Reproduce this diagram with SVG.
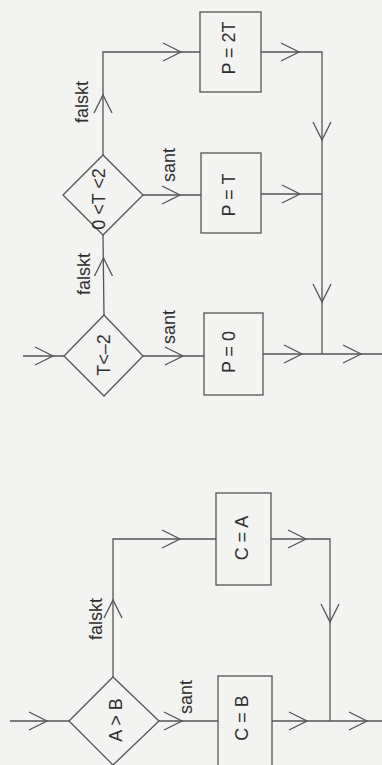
<svg xmlns="http://www.w3.org/2000/svg" xmlns:xlink="http://www.w3.org/1999/xlink" width="382" height="765" viewBox="0 0 382 765">
<style>
.bg{fill:#f3f3f1}
.ln{fill:none;stroke:#555;stroke-width:1.3}
.bx{fill:none;stroke:#555;stroke-width:1.3}
.t{font-family:"Liberation Sans",Arial,sans-serif;font-size:18px;fill:#2e2e2e;text-anchor:middle}
</style>
<defs>
<path id="ah" d="M-18,-9 L0,0 L-18,9" fill="none" stroke="#555" stroke-width="1.3"/>
</defs>
<rect class="bg" x="0" y="0" width="382" height="765"/>
<g id="connectors">
<path class="ln" d="M23,356 L64,356"/>
<use xlink:href="#ah" transform="translate(53,356)"/>
<path class="ln" d="M143,356 L204,356"/>
<use xlink:href="#ah" transform="translate(183,356)"/>
<path class="ln" d="M263,354 L382,354"/>
<use xlink:href="#ah" transform="translate(302,354)"/>
<use xlink:href="#ah" transform="translate(361,354)"/>
<path class="ln" d="M104,315 L103,235"/>
<use xlink:href="#ah" transform="translate(103.5,258) rotate(-90)"/>
<path class="ln" d="M143,195 L201,195"/>
<use xlink:href="#ah" transform="translate(180,195)"/>
<path class="ln" d="M261,194 L322,194"/>
<use xlink:href="#ah" transform="translate(300,194)"/>
<path class="ln" d="M103,155 L103,52 L200,52"/>
<use xlink:href="#ah" transform="translate(103,95) rotate(-90)"/>
<use xlink:href="#ah" transform="translate(181,52)"/>
<path class="ln" d="M261,52 L322,52 L322,354"/>
<use xlink:href="#ah" transform="translate(299,52)"/>
<use xlink:href="#ah" transform="translate(322,140) rotate(90)"/>
<use xlink:href="#ah" transform="translate(322,302) rotate(90)"/>
<path class="ln" d="M10,721 L69,721"/>
<use xlink:href="#ah" transform="translate(47,721)"/>
<path class="ln" d="M159,721 L218,721"/>
<use xlink:href="#ah" transform="translate(182,721)"/>
<path class="ln" d="M272,721 L382,721"/>
<use xlink:href="#ah" transform="translate(307,721)"/>
<use xlink:href="#ah" transform="translate(367,721)"/>
<path class="ln" d="M113,677 L113,539 L216,539"/>
<use xlink:href="#ah" transform="translate(113,600) rotate(-90)"/>
<use xlink:href="#ah" transform="translate(180,539)"/>
<path class="ln" d="M271,539 L330,539 L330,721"/>
<use xlink:href="#ah" transform="translate(306,539)"/>
<use xlink:href="#ah" transform="translate(330,622) rotate(90)"/>
</g>
<g id="labels">
<text class="t" transform="translate(175,165) rotate(-90)">sant</text>
<text class="t" transform="translate(175,327) rotate(-90)">sant</text>
<text class="t" transform="translate(192,697) rotate(-90)">sant</text>
<text class="t" transform="translate(88,102) rotate(-90)">falskt</text>
<text class="t" transform="translate(90,274) rotate(-90)">falskt</text>
<text class="t" transform="translate(102,619) rotate(-90)">falskt</text>
</g>
<g id="d-t-lt-minus2">
<path class="bx" d="M104,315 L143,356 L104,396 L64,356 Z"/>
<text class="t" transform="translate(110,355) rotate(-90)">T&lt;–2</text>
</g>
<g id="d-0-lt-t-lt-2">
<path class="bx" d="M103,155 L143,195 L103,235 L63,195 Z"/>
<text class="t" transform="translate(105,199) rotate(-90)">0 &lt;T &lt;2</text>
</g>
<g id="b-p-0">
<rect class="bx" x="204" y="313" width="59" height="82"/>
<text class="t" transform="translate(235,352) rotate(-90)">P = 0</text>
</g>
<g id="b-p-t">
<rect class="bx" x="201" y="153" width="60" height="80"/>
<text class="t" transform="translate(235,195) rotate(-90)">P = T</text>
</g>
<g id="b-p-2t">
<rect class="bx" x="200" y="12" width="61" height="80"/>
<text class="t" transform="translate(235,48) rotate(-90)">P = 2T</text>
</g>
<g id="d-a-gt-b">
<path class="bx" d="M113,677 L159,721 L113,765 L69,721 Z"/>
<text class="t" transform="translate(122,720) rotate(-90)">A &gt; B</text>
</g>
<g id="b-c-b">
<rect class="bx" x="218" y="676" width="54" height="100"/>
<text class="t" transform="translate(248,718) rotate(-90)">C = B</text>
</g>
<g id="b-c-a">
<rect class="bx" x="216" y="493" width="55" height="92"/>
<text class="t" transform="translate(248,538) rotate(-90)">C = A</text>
</g>
</svg>
